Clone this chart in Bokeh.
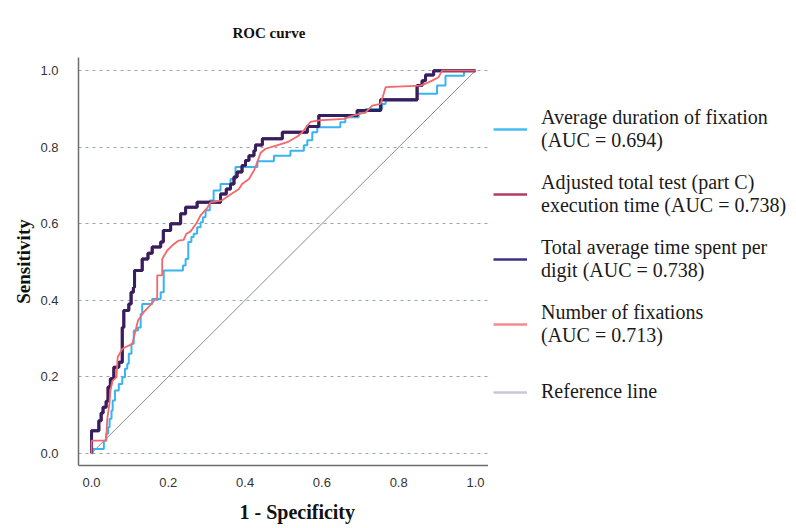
from bokeh.plotting import figure
from bokeh.layouts import row
from bokeh.models import Range1d, FixedTicker, Legend, LegendItem, Title
from bokeh.embed import file_html
from bokeh.resources import INLINE

# ---------------- data ----------------
x_ticks = [0.0, 0.2, 0.4, 0.6, 0.8, 1.0]
x_tick_labels = ["0.0", "0.2", "0.4", "0.6", "0.8", "1.0"]
y_ticks = [0.0, 0.2, 0.4, 0.6, 0.8, 1.0]
y_tick_labels = ["0.0", "0.2", "0.4", "0.6", "0.8", "1.0"]

series_names = [
    "Average duration of fixation\n(AUC = 0.694)",
    "Adjusted total test (part C)\nexecution time (AUC = 0.738)",
    "Total average time spent per\ndigit (AUC = 0.738)",
    "Number of fixations\n(AUC = 0.713)",
    "Reference line",
]

# Average duration of fixation (step ROC: points after each rise)
fix_dur_fpr = [0.0, 0.003, 0.032, 0.038, 0.043, 0.047, 0.052, 0.055, 0.061, 0.071, 0.080,
               0.087, 0.093, 0.097, 0.104, 0.110, 0.121, 0.128, 0.132, 0.158, 0.180, 0.188,
               0.238, 0.245, 0.252, 0.260, 0.266, 0.275, 0.284, 0.290, 0.297, 0.308, 0.318,
               0.336, 0.362, 0.375, 0.432, 0.475, 0.518, 0.553, 0.562, 0.575, 0.588, 0.648,
               0.661, 0.696, 0.714, 0.757, 0.766, 0.848, 0.900, 0.922, 0.970, 1.0]
fix_dur_tpr = [0.0, 0.011, 0.033, 0.051, 0.068, 0.090, 0.112, 0.138, 0.164, 0.181, 0.199,
               0.221, 0.234, 0.260, 0.286, 0.321, 0.329, 0.364, 0.390, 0.403, 0.421, 0.478,
               0.491, 0.508, 0.552, 0.565, 0.574, 0.591, 0.604, 0.617, 0.635, 0.661, 0.687,
               0.704, 0.717, 0.748, 0.763, 0.778, 0.791, 0.805, 0.818, 0.839, 0.852, 0.865,
               0.878, 0.891, 0.900, 0.913, 0.922, 0.940, 0.961, 0.987, 1.0, 1.0]

# Total average time spent per digit (step ROC)
digit_fpr = [0.0, 0.0, 0.019, 0.025, 0.030, 0.038, 0.043, 0.049, 0.058, 0.071, 0.080, 0.084,
             0.097, 0.103, 0.109, 0.112, 0.132, 0.147, 0.158, 0.180, 0.187, 0.206, 0.232,
             0.245, 0.275, 0.336, 0.351, 0.362, 0.371, 0.379, 0.392, 0.401, 0.410, 0.423,
             0.427, 0.445, 0.497, 0.562, 0.592, 0.692, 0.753, 0.848, 0.861, 0.870, 0.891, 1.0]
digit_tpr = [0.0, 0.059, 0.085, 0.105, 0.120, 0.136, 0.173, 0.195, 0.225, 0.238, 0.329, 0.373,
             0.390, 0.421, 0.434, 0.478, 0.508, 0.523, 0.539, 0.552, 0.582, 0.600, 0.626,
             0.643, 0.656, 0.678, 0.691, 0.704, 0.722, 0.735, 0.752, 0.765, 0.778, 0.791,
             0.806, 0.822, 0.839, 0.854, 0.883, 0.896, 0.924, 0.961, 0.974, 0.989, 1.0, 1.0]

# Adjusted total test (part C) execution time: same ROC as time per digit
adjusted_fpr = list(digit_fpr)
adjusted_tpr = list(digit_tpr)

# Number of fixations (ROC polyline, ties give diagonal pieces)
fix_num_fpr = [0.0, 0.0, 0.038, 0.041, 0.047, 0.049, 0.055, 0.065, 0.068, 0.080, 0.106, 0.121,
               0.136, 0.152, 0.167, 0.171, 0.171, 0.184, 0.184, 0.197, 0.210, 0.227, 0.240,
               0.247, 0.258, 0.275, 0.284, 0.301, 0.310, 0.340, 0.358, 0.384, 0.392, 0.410,
               0.423, 0.432, 0.440, 0.453, 0.483, 0.510, 0.536, 0.549, 0.570, 0.592, 0.657,
               0.683, 0.714, 0.731, 0.753, 0.766, 0.857, 0.870, 0.887, 0.904, 0.913, 1.0]
fix_num_tpr = [0.0, 0.033, 0.033, 0.090, 0.133, 0.164, 0.190, 0.199, 0.251, 0.273, 0.286, 0.347,
               0.369, 0.386, 0.404, 0.404, 0.465, 0.465, 0.508, 0.530, 0.543, 0.556, 0.558,
               0.574, 0.580, 0.604, 0.622, 0.641, 0.656, 0.661, 0.674, 0.691, 0.704, 0.717,
               0.739, 0.761, 0.785, 0.796, 0.805, 0.813, 0.828, 0.839, 0.866, 0.870, 0.874,
               0.883, 0.891, 0.909, 0.913, 0.957, 0.961, 0.966, 0.974, 0.983, 1.0, 1.0]

ref_x = [0.0, 1.0]
ref_y = [0.0, 1.0]

series_x = [fix_dur_fpr, adjusted_fpr, digit_fpr, fix_num_fpr, ref_x]
series_y = [fix_dur_tpr, adjusted_tpr, digit_tpr, fix_num_tpr, ref_y]

colors = ["#38B4F0", "#B5365F", "#33205F", "#F4676A", "#8C8C8C"]
legend_colors = ["#45BCF4", "#B23D62", "#3D3280", "#F58A90", "#C6CAD0"]

# ---------------- main figure ----------------
p = figure(frame_width=410, frame_height=408,
           x_range=Range1d(-0.034, 1.034), y_range=Range1d(-0.032, 1.0345),
           output_backend="svg", toolbar_location=None,
           min_border_left=78, min_border_right=0, min_border_top=57, min_border_bottom=63)

p.title.text = "ROC curve"
p.title.text_font = "Liberation Serif"
p.title.text_font_style = "bold"
p.title.text_font_size = "15px"
p.title.text_color = "#111111"
p.title.align = "left"
p.title.offset = 154
p.title.standoff = 33

p.outline_line_color = None

for ax in (p.xaxis[0], p.yaxis[0]):
    ax.axis_line_color = "#6E6E6E"
    ax.axis_line_width = 1.5
    ax.major_tick_line_color = None
    ax.minor_tick_line_color = None
    ax.major_label_text_font = "Liberation Sans"
    ax.major_label_text_font_size = "13px"
    ax.major_label_text_color = "#333333"
    ax.axis_label_text_font = "Liberation Serif"
    ax.axis_label_text_font_style = "bold"
    ax.axis_label_text_color = "#111111"

p.xaxis.ticker = FixedTicker(ticks=x_ticks)
p.xaxis.major_label_overrides = {t: l for t, l in zip(x_ticks, x_tick_labels)}
p.yaxis.ticker = FixedTicker(ticks=y_ticks)
p.yaxis.major_label_overrides = {t: l for t, l in zip(y_ticks, y_tick_labels)}
p.xaxis.major_label_standoff = 6
p.yaxis.major_label_standoff = 14
p.yaxis.axis_label = "Sensitivity"
p.yaxis.axis_label_text_font_size = "19px"
p.yaxis.axis_label_standoff = 3

p.add_layout(Title(text="1 - Specificity", align="left", offset=161, standoff=18,
                   text_font="Liberation Serif", text_font_style="bold",
                   text_font_size="20px", text_color="#111111"), "below")

p.xgrid.visible = False
p.ygrid.ticker = FixedTicker(ticks=y_ticks)
p.ygrid.grid_line_color = "#9AA3B5"
p.ygrid.grid_line_dash = "3 4"
p.ygrid.grid_line_width = 1

p.line(ref_x, ref_y, line_color=colors[4], line_width=1)
p.step(fix_dur_fpr, fix_dur_tpr, mode="after", line_color=colors[0], line_width=2)
p.step(adjusted_fpr, adjusted_tpr, mode="after", line_color=colors[1], line_width=3)
p.step(digit_fpr, digit_tpr, mode="after", line_color=colors[2], line_width=3)
p.line(fix_num_fpr, fix_num_tpr, line_color=colors[3], line_width=1.8)

# ---------------- legend panel (keys use the same series, outside its view) ----------------
lg = figure(width=308, height=528, x_range=Range1d(-3, -2), y_range=Range1d(-3, -2),
            output_backend="svg", toolbar_location=None,
            x_axis_location=None, y_axis_location=None,
            min_border_left=0, min_border_right=0, min_border_top=0, min_border_bottom=0)
lg.outline_line_color = None
lg.xgrid.visible = False
lg.ygrid.visible = False

keys = [lg.line(series_x[i], series_y[i], line_color=legend_colors[i], line_width=2.5)
        for i in range(5)]

legend_style = dict(
    border_line_color=None, background_fill_alpha=0,
    label_text_font="Liberation Serif", label_text_font_size="20px",
    label_text_line_height=1.25,
    label_text_color="#1A1A1A",
    glyph_width=34, label_standoff=14, padding=0, spacing=19, margin=0,
)
leg1 = Legend(items=[LegendItem(label=series_names[i], renderers=[keys[i]]) for i in range(4)],
              location=(5, 115), **legend_style)
leg2 = Legend(items=[LegendItem(label=series_names[4], renderers=[keys[4]])],
              location=(5, 59), **legend_style)
lg.add_layout(leg1, "center")
lg.add_layout(leg2, "center")

layout = row(p, lg)
open("out.html", "w").write(file_html(layout, INLINE))
